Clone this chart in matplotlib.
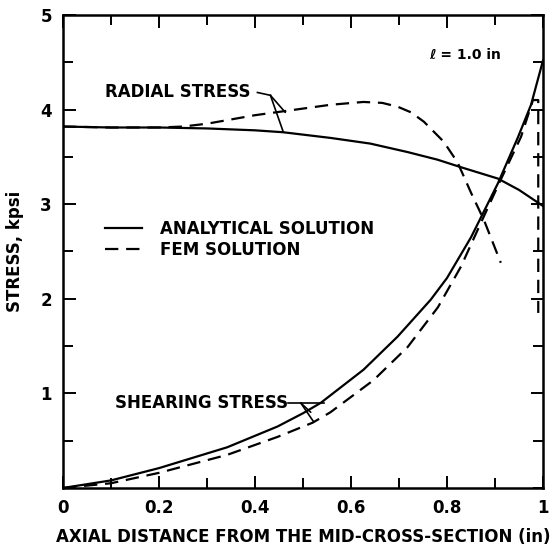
import matplotlib
matplotlib.use("Agg")
import matplotlib.pyplot as plt
from matplotlib.ticker import MultipleLocator

# Curvas (x en pulgadas, esfuerzo en kpsi)
x_rad_an = [0, 0.1, 0.2, 0.3, 0.4, 0.458, 0.557, 0.64, 0.718, 0.78, 0.829, 0.906, 0.95, 1.0]
y_rad_an = [3.82, 3.81, 3.81, 3.80, 3.78, 3.76, 3.70, 3.64, 3.55, 3.47, 3.39, 3.27, 3.15, 2.98]

x_rad_fem = [0, 0.1, 0.2, 0.25, 0.3, 0.4, 0.5, 0.557, 0.626, 0.665, 0.697, 0.725, 0.752,
             0.793, 0.822, 0.85, 0.877, 0.912]
y_rad_fem = [3.82, 3.81, 3.81, 3.82, 3.85, 3.94, 4.01, 4.05, 4.08, 4.07, 4.03, 3.97, 3.87,
             3.66, 3.44, 3.12, 2.83, 2.38]

x_sh_an = [0, 0.1, 0.2, 0.342, 0.447, 0.5, 0.537, 0.626, 0.697, 0.766, 0.8, 0.85, 0.906,
           0.948, 0.975, 1.0]
y_sh_an = [0, 0.08, 0.21, 0.43, 0.65, 0.79, 0.90, 1.25, 1.60, 1.99, 2.22, 2.65, 3.22,
           3.71, 4.05, 4.52]

x_sh_fem = [0, 0.1, 0.2, 0.342, 0.447, 0.52, 0.557, 0.647, 0.718, 0.781, 0.829, 0.864,
            0.912, 0.954, 0.979, 0.99, 0.99]
y_sh_fem = [0, 0.05, 0.16, 0.35, 0.54, 0.69, 0.80, 1.14, 1.49, 1.91, 2.34, 2.73,
            3.26, 3.71, 4.10, 4.10, 1.85]

x_ticks = [0, 0.2, 0.4, 0.6, 0.8, 1.0]
x_tick_labels = ["0", "0.2", "0.4", "0.6", "0.8", "1"]
y_ticks = [1, 2, 3, 4, 5]
y_tick_labels = ["1", "2", "3", "4", "5"]

fnt = dict(family="DejaVu Sans", weight="bold")

fig = plt.figure(figsize=(5.53, 5.52), dpi=100)
ax = fig.add_axes([0.114, 0.116, 0.868, 0.857])

lw = 1.6
dash = (0, (6, 3.5))
ax.plot(x_rad_an, y_rad_an, color="black", lw=lw, label="ANALYTICAL SOLUTION")
ax.plot(x_rad_fem, y_rad_fem, color="black", lw=lw, linestyle=dash, label="FEM SOLUTION")
ax.plot(x_sh_an, y_sh_an, color="black", lw=lw)
ax.plot(x_sh_fem, y_sh_fem, color="black", lw=lw, linestyle=dash)

ax.set_xlim(0, 1.0)
ax.set_ylim(0, 5)

# Ejes y marcas hacia adentro, en los cuatro lados
for s in ax.spines.values():
    s.set_linewidth(1.8)
ax.set_xticks(x_ticks)
ax.set_xticklabels(x_tick_labels, fontsize=12, **fnt)
ax.set_yticks(y_ticks)
ax.set_yticklabels(y_tick_labels, fontsize=12, **fnt)
ax.xaxis.set_minor_locator(MultipleLocator(0.1))
ax.yaxis.set_minor_locator(MultipleLocator(0.5))
ax.tick_params(which="both", direction="in", top=True, right=True, width=1.4, pad=8)
ax.tick_params(which="major", length=9)
ax.tick_params(which="minor", length=7)

ax.set_xlabel("AXIAL DISTANCE FROM THE MID-CROSS-SECTION (in)", fontsize=12, labelpad=8, **fnt)
ax.set_ylabel("STRESS, kpsi", fontsize=12, labelpad=12, **fnt)

# Etiquetas con lineas guia
ax.text(0.088, 4.18, "RADIAL STRESS", fontsize=12, va="center", ha="left", **fnt)
ax.plot([0.405, 0.432], [4.18, 4.15], color="black", lw=1.2)
ax.annotate("", xy=(0.463, 3.97), xytext=(0.432, 4.15),
            arrowprops=dict(arrowstyle="-", color="black", lw=1.2, shrinkA=0, shrinkB=0))
ax.annotate("", xy=(0.459, 3.76), xytext=(0.432, 4.15),
            arrowprops=dict(arrowstyle="-", color="black", lw=1.2, shrinkA=0, shrinkB=0))

ax.text(0.109, 0.90, "SHEARING STRESS", fontsize=12, va="center", ha="left", **fnt)
ax.plot([0.468, 0.543], [0.90, 0.90], color="black", lw=1.2)
ax.annotate("", xy=(0.516, 0.80), xytext=(0.495, 0.90),
            arrowprops=dict(arrowstyle="-", color="black", lw=1.2, shrinkA=0, shrinkB=0))
ax.annotate("", xy=(0.522, 0.70), xytext=(0.495, 0.90),
            arrowprops=dict(arrowstyle="-", color="black", lw=1.2, shrinkA=0, shrinkB=0))

ax.text(0.762, 4.58, "ℓ = 1.0 in", fontsize=10, va="center", ha="left", **fnt)

ax.legend(loc="upper left", bbox_to_anchor=(0.0875, 0.567), frameon=False,
          prop=dict(size=12, **fnt), handlelength=2.2, handletextpad=1.1,
          labelspacing=0.2, borderpad=0, borderaxespad=0)

plt.savefig("out.png", dpi=100)
plt.close()
